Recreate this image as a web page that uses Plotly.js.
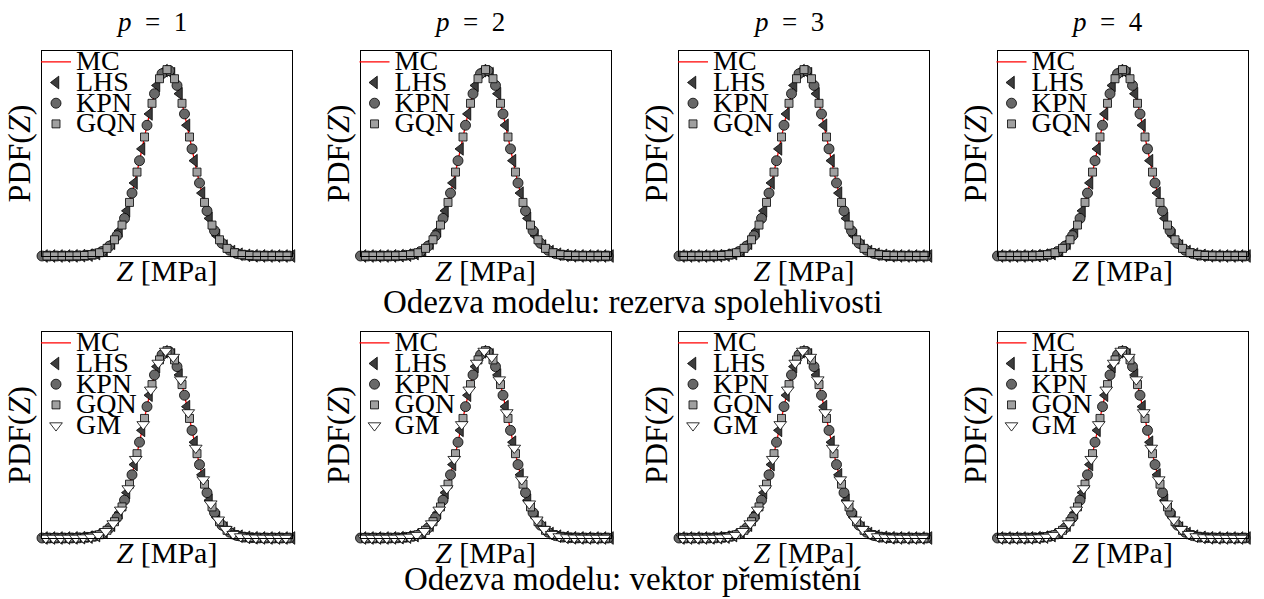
<!DOCTYPE html>
<html><head><meta charset="utf-8">
<script src="https://cdn.plot.ly/plotly-3.0.1.min.js"></script>
<style>
html,body{margin:0;padding:0;background:#fff;}
#chart{width:1264px;height:599px;}
</style></head><body><div id="chart"></div>
<script>
// ---- data (PDF estimates, arbitrary Z units) ----
const xMC = [-5.0,-4.8,-4.6,-4.4,-4.2,-4.0,-3.8,-3.6,-3.4,-3.2,-3.0,-2.8,-2.6,-2.4,-2.2,-2.0,-1.8,-1.6,-1.4,-1.2,-1.0,-0.8,-0.6,-0.4,-0.2,0.0,
  0.2,0.4,0.6,0.8,1.0,1.2,1.4,1.6,1.8,2.0,2.2,2.4,2.6,2.8,3.0,3.2,3.4,3.6,3.8,4.0,4.2,4.4,4.6,4.8,5.0];
const yMC = [0,0,0,0,0,0,0.0001,0.0003,0.0007,0.0014,0.0027,0.0052,0.0095,0.0164,0.0274,0.0436,0.0664,0.0969,0.1350,0.1801,0.2299,0.2806,0.3277,0.3661,0.3912,0.4000,
  0.3912,0.3661,0.3277,0.2806,0.2299,0.1801,0.1350,0.0969,0.0664,0.0436,0.0274,0.0164,0.0095,0.0052,0.0027,0.0014,0.0007,0.0003,0.0001,0,0,0,0,0,0];

const xLHS = [-4.9,-4.6,-4.3,-4.0,-3.7,-3.4,-3.1,-2.8,-2.5,-2.2,-1.9,-1.6,-1.3,-1.0,-0.7,-0.4,-0.1,0.2,0.5,0.8,1.1,1.4,1.7,2.0,2.3,2.6,2.9,3.2,3.5,3.8,4.1,4.4,4.7,5.0];
const yLHS = [0,0,0,0,0.0002,0.0007,0.0019,0.0052,0.0125,0.0274,0.0541,0.0969,0.1568,0.2299,0.3049,0.3661,0.3978,0.3912,0.3483,0.2806,0.2046,0.1350,0.0807,0.0436,0.0213,0.0095,0.0038,0.0014,0.0004,0.0001,0,0,0,0];

const xKPN = [-5.0,-4.7,-4.4,-4.1,-3.8,-3.5,-3.2,-2.9,-2.6,-2.3,-2.0,-1.7,-1.4,-1.1,-0.8,-0.5,-0.2,0.1,0.4,0.7,1.0,1.3,1.6,1.9,2.2,2.5,2.8,3.1,3.4,3.7,4.0,4.3,4.6,4.9];
const yKPN = [0,0,0,0,0.0001,0.0004,0.0014,0.0038,0.0095,0.0213,0.0436,0.0807,0.1350,0.2046,0.2806,0.3483,0.3912,0.3978,0.3661,0.3049,0.2299,0.1568,0.0969,0.0541,0.0274,0.0125,0.0052,0.0019,0.0007,0.0002,0,0,0,0];

const xGQN = [-4.8,-4.5,-4.2,-3.9,-3.6,-3.3,-3.0,-2.7,-2.4,-2.1,-1.8,-1.5,-1.2,-0.9,-0.6,-0.3,0.0,0.3,0.6,0.9,1.2,1.5,1.8,2.1,2.4,2.7,3.0,3.3,3.6,3.9,4.2,4.5,4.8];
const yGQN = [0,0,0,0.0001,0.0003,0.0010,0.0027,0.0070,0.0164,0.0348,0.0664,0.1150,0.1801,0.2554,0.3277,0.3805,0.4000,0.3805,0.3277,0.2554,0.1801,0.1150,0.0664,0.0348,0.0164,0.0070,0.0027,0.0010,0.0003,0.0001,0,0,0];

const xGM = [-4.85,-4.55,-4.25,-3.95,-3.65,-3.35,-3.05,-2.75,-2.45,-2.15,-1.85,-1.55,-1.25,-0.95,-0.65,-0.35,-0.05,0.25,0.55,0.85,1.15,1.45,1.75,2.05,2.35,2.65,2.95,3.25,3.55,3.85,4.15,4.45,4.75];
const yGM = [0,0,0,0.0001,0.0002,0.0008,0.0023,0.0061,0.0144,0.0309,0.0601,0.1057,0.1683,0.2426,0.3165,0.3738,0.3994,0.3864,0.3383,0.2681,0.1923,0.1248,0.0733,0.0390,0.0188,0.0082,0.0032,0.0012,0.0004,0.0001,0,0,0];

const seriesNames = ['MC','LHS','KPN','GQN','GM'];
const columnTitles = ['<i>p</i>\u2002=\u20021','<i>p</i>\u2002=\u20022','<i>p</i>\u2002=\u20023','<i>p</i>\u2002=\u20024'];
const rowTitles = ['Odezva modelu: rezerva spolehlivosti','Odezva modelu: vektor přemístění'];
const xLabel = '<i>Z</i> [MPa]';
const yLabel = 'PDF(<i>Z</i>)';

// ---- layout ----
const W = 1264, H = 599;
const FONT = 'Liberation Serif, Times New Roman, serif';
const colLeft = [42, 360.5, 679, 997.5];
const boxW = 250;
const rowTop = [51, 332], rowBot = [256, 538];

// legend label: large glyphs inside a compact legend row (as in the reference)
function legName(s) { return '<span style="font-size:28px;baseline-shift:-3px">' + s + '</span>'; }

const data = [];
const layout = {
  width: W, height: H,
  margin: {l:0, r:0, t:0, b:0},
  paper_bgcolor: '#fff', plot_bgcolor: '#fff',
  font: {family: FONT, color: '#000'},
  showlegend: true,
  annotations: []
};

function mk(sym, fill, size) {
  return {symbol: sym, color: fill, size: size, line: {color: '#000', width: 0.8}};
}

let k = 0;
for (let r = 0; r < 2; r++) {
  for (let c = 0; c < 4; c++) {
    k++;
    const xa = 'xaxis' + (k === 1 ? '' : k), ya = 'yaxis' + (k === 1 ? '' : k);
    const xr = 'x' + (k === 1 ? '' : k), yr = 'y' + (k === 1 ? '' : k);
    const lg = 'legend' + (k === 1 ? '' : k);
    layout[xa] = {
      domain: [colLeft[c] / W, (colLeft[c] + boxW) / W], anchor: yr,
      range: [-5, 5], showline: true, mirror: true, linecolor: '#000', linewidth: 1,
      ticks: '', showticklabels: false, showgrid: false, zeroline: false, fixedrange: true,
      title: {text: xLabel, font: {family: FONT, size: 30, color: '#000'}, standoff: 3}
    };
    layout[ya] = {
      domain: [1 - rowBot[r] / H, 1 - rowTop[r] / H], anchor: xr,
      range: [0, 0.44], showline: true, mirror: true, linecolor: '#000', linewidth: 1,
      ticks: '', showticklabels: false, showgrid: false, zeroline: false, fixedrange: true,
      title: {text: yLabel, font: {family: FONT, size: 32, color: '#000'}, standoff: 0}
    };
    layout[lg] = {
      x: (colLeft[c] - 6) / W, y: 1 - (rowTop[r] - 4.5) / H, xanchor: 'left', yanchor: 'top',
      bgcolor: 'rgba(0,0,0,0)', borderwidth: 0, itemwidth: 30, tracegroupgap: 0,
      font: {family: FONT, size: 13.6, color: '#000'}, itemclick: false, itemdoubleclick: false
    };
    data.push({x: xMC, y: yMC, xaxis: xr, yaxis: yr, legend: lg, name: legName(seriesNames[0]), type: 'scatter', mode: 'lines',
      line: {color: '#ff0000', width: 1.3, shape: 'spline'}, cliponaxis: false});
    data.push({x: xLHS, y: yLHS, xaxis: xr, yaxis: yr, legend: lg, name: legName(seriesNames[1]), type: 'scatter', mode: 'markers',
      marker: mk('triangle-left', '#3d3d3d', 11), cliponaxis: false});
    data.push({x: xKPN, y: yKPN, xaxis: xr, yaxis: yr, legend: lg, name: legName(seriesNames[2]), type: 'scatter', mode: 'markers',
      marker: mk('circle', '#686868', 10), cliponaxis: false});
    data.push({x: xGQN, y: yGQN, xaxis: xr, yaxis: yr, legend: lg, name: legName(seriesNames[3]), type: 'scatter', mode: 'markers',
      marker: mk('square', '#a0a0a0', 8), cliponaxis: false});
    if (r === 1) {
      data.push({x: xGM, y: yGM, xaxis: xr, yaxis: yr, legend: lg, name: legName(seriesNames[4]), type: 'scatter', mode: 'markers',
        marker: mk('triangle-down', '#ffffff', 11), cliponaxis: false});
    }
    if (r === 0) {
      layout.annotations.push({text: columnTitles[c], xref: 'paper', yref: 'paper',
        x: (colLeft[c] + boxW / 2 - 16) / W, y: 1 - 22 / H, xanchor: 'center', yanchor: 'middle',
        showarrow: false, font: {family: FONT, size: 27, color: '#000'}});
    }
  }
}
layout.annotations.push({text: rowTitles[0], xref: 'paper', yref: 'paper', x: 632 / W, y: 1 - 302 / H,
  xanchor: 'center', yanchor: 'middle', showarrow: false, font: {family: FONT, size: 33, color: '#000'}});
layout.annotations.push({text: rowTitles[1], xref: 'paper', yref: 'paper', x: 632 / W, y: 1 - 579 / H,
  xanchor: 'center', yanchor: 'middle', showarrow: false, font: {family: FONT, size: 33, color: '#000'}});

Plotly.newPlot('chart', data, layout, {displayModeBar: false, staticPlot: true});
</script></body></html>
